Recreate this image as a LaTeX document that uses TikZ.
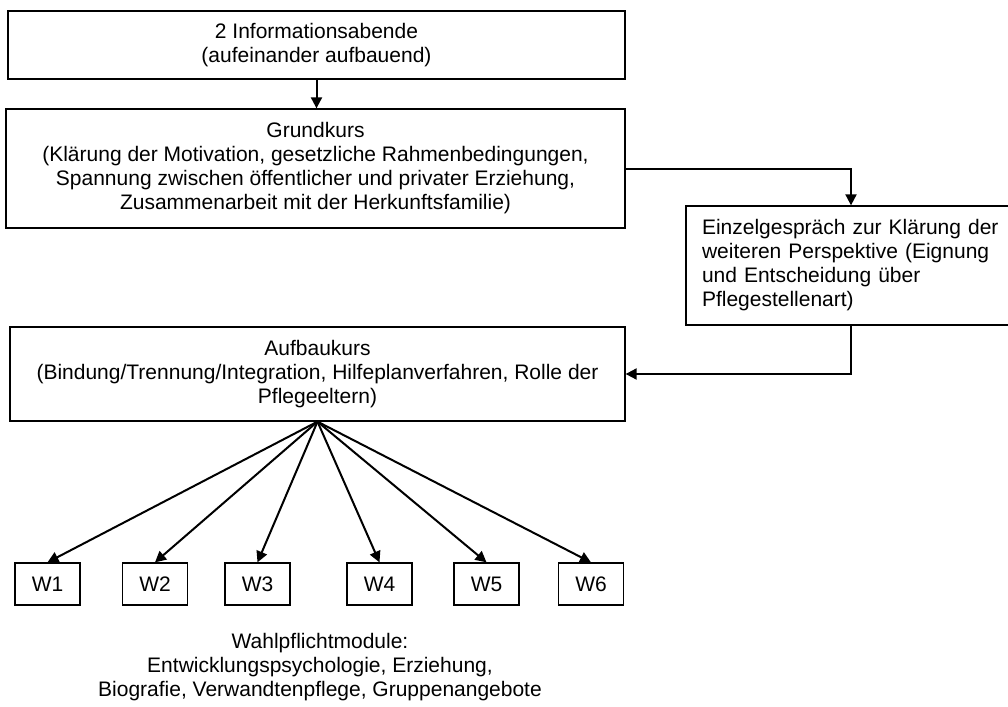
\documentclass[tikz,border=0pt]{standalone}
\usepackage{fontspec}
\setmainfont{Liberation Sans}
\usetikzlibrary{arrows.meta,positioning}
\tikzset{
  box/.style={draw,line width=1.3pt,align=center,inner sep=0pt,font=\fontsize{21}{24}\selectfont},
  pfeil/.style={line width=2pt,-{Triangle[length=11pt,width=11pt]}}
}
\begin{document}
\begin{tikzpicture}[x=1pt,y=-1pt]
    \useasboundingbox (0,0) rectangle (1008,706);
    \node[box,minimum width=617pt,minimum height=68pt] (info) at (316.5,45)
        {2 Informationsabende\\(aufeinander aufbauend)};
    \node[box,minimum width=619pt,minimum height=119pt] (grund) at (315.5,168.5)
        {Grundkurs\\(Klärung der Motivation, gesetzliche Rahmenbedingungen,\\Spannung zwischen öffentlicher und privater Erziehung,\\Zusammenarbeit mit der Herkunftsfamilie)};
    \node[box,align=left,text width=318pt,inner xsep=16pt,minimum height=119pt] (einzel) at (861,265.5)
        {Einzelgespräch zur Klärung der\\weiteren Perspektive (Eignung\\und Entscheidung über\\Pflegestellenart)};
    \node[box,minimum width=615pt,minimum height=94pt] (auf) at (317.5,374)
        {Aufbaukurs\\(Bindung/Trennung/Integration, Hilfeplanverfahren, Rolle der\\Pflegeeltern)};
    % Wahlpflichtmodule
    \foreach \x [count=\i] in {47.5,155,257.5,379.5,486.5,591}
        \node[box,minimum width=65pt,minimum height=42pt] (w\i) at (\x,584) {W\i};
    \node[box,draw=none] (wahl) at (320,667)
        {Wahlpflichtmodule:\\Entwicklungspsychologie, Erziehung,\\Biografie, Verwandtenpflege, Gruppenangebote};
    \coordinate (knick) at (851,168.5);
    \draw[pfeil] (info.south) -- (info.south |- grund.north);
    \draw[pfeil] (grund.east) -- (knick) -- (knick |- einzel.north);
    \draw[pfeil] (knick |- einzel.south) |- (auf.east);
    \foreach \i in {1,...,6} \draw[pfeil] (auf.south) -- (w\i.north);
\end{tikzpicture}
\end{document}
